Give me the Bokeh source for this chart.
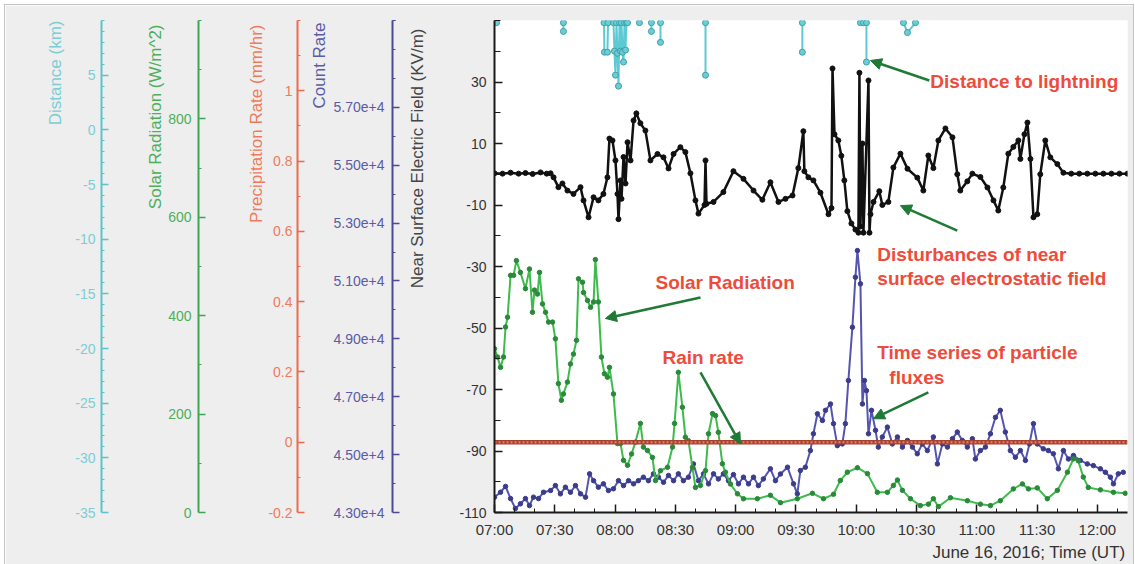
import pandas as pd
from bokeh.plotting import figure
from bokeh.models import (Range1d, LinearAxis, FixedTicker, DatetimeTickFormatter,
                          ColumnDataSource, Label, Arrow, NormalHead, Title)
from bokeh.embed import file_html
from bokeh.resources import INLINE

FONT = "Liberation Sans"

# ---------------------------------------------------------------------------
# Observations of 16 June 2016; times are minutes after 07:00 UT
# ---------------------------------------------------------------------------
field_min = [0, 4, 8, 12, 15.4, 19, 22.9, 26, 27.9, 29.4, 31.8, 33.8, 36.3, 39.3,
             42.8, 44.3, 46.8, 49.3, 51.7, 54.2, 56.2, 57.2, 58.7, 60.2, 61.2, 61.7,
             62.7, 63.2, 64.2, 65.2, 66.2, 67.7, 69.2, 70.6, 72.6, 75.1, 77.6, 81.1,
             84.1, 86.6, 89.1, 92.5, 95, 97.5, 100, 101.5, 104.5, 105, 105.5, 109,
             113.9, 118.9, 123.9, 128.9, 133.3, 137.3, 141.3, 144.8, 148.3, 151.2,
             153.7, 154.2, 156.2, 158.7, 162.2, 166.2, 167.7, 168.2, 169.2, 171.1,
             172.6, 174.1, 175.6, 177.6, 179.6, 181.1, 181.6, 182.1, 183.1, 183.6,
             186.1, 186.6, 187.1, 188.6, 191.5, 193, 196, 198.5, 202, 205.5, 210.4,
             213.4, 215.9, 218.4, 220.9, 224.4, 227.9, 230.3, 231.8, 235.3, 237.8,
             241.8, 245.3, 248.3, 250.7, 253.2, 255.7, 258.2, 260.7, 261.7, 263.7,
             265.2, 266.7, 268.2, 270.1, 271.6, 274.1, 276.6, 280.1, 283.1, 287,
             291, 295, 299, 303, 307, 311, 315]
field_kvm = [0.3, 0.2, 0.5, 0.2, 0.4, 0.1, 0.6, 0.2, 0.3, -1, -4.2, -3, -5.3, -6.4,
             -4.2, -8.5, -14, -7.5, -8.5, -6.4, -1, 11.6, 11, 4.5, -6.4, -14.6,
             -2, -8, 5.6, -3, 10.4, 4.5, 17.5, 19.8, 16.6, 14.2, 4.5, 6.6,
             5.5, 1.9, 6.6, 8.8, 7.2, 0.3, -8.5, -12.8, -10, 4.5, -9.6, -9,
             -5.8, 1, -1.5, -5.3, -8.3, -2.6, -9, -8, -6.9, 2,
             14, 1, -1, -2, -6, -13, -11, 34.4, 13, 11,
             6, -2, -12, -16, -18, -19, 33, -17, 10, -19,
             30.5, -19, -13, -9, -5.5, -10, -9, 2.2, 6.7, 1.8, -1.1,
             -5.3, 6.1, 2, 11, 14.9, 12, 0, -5.3, -2.3, 0.2,
             -0.9, -4.3, -8.5, -11.8, -4.3, 6.7, 8.9, 11, 5, 13,
             16.8, 5, -14, -13, 0, 11, 5.5, 3.3, 0.5, 0.2,
             0.2, 0.2, 0.2, 0.2, 0.2, 0.2, 0.2]

solar_min = [0, 1.5, 3, 4.5, 5.5, 6.5, 8, 9.5, 10.9, 12.9, 15.4, 17.4, 18.9, 19.9,
             21.4, 22.4, 23.9, 25.4, 26.9, 28.9, 30.3, 31.8, 33.3, 34.3, 36.3, 37.8,
             39.3, 40.8, 41.8, 43.8, 44.3, 46.3, 47.8, 49.3, 50.2, 51.7, 53.2, 54.7,
             56.2, 57.2, 59.2, 61.2, 62.7, 64.2, 66.2, 68.2, 70.1, 72.6, 74.1, 76.1,
             78.6, 80.1, 82.6, 86.1, 88.6, 89.6, 91.5, 93.5, 95, 96.5, 98.5, 100,
             102.5, 105, 106.5, 108.5, 110, 111.4, 113.4, 114.9, 117.4, 120.9, 123.9,
             130.8, 137.3, 142.3, 150.7, 158.2, 163.7, 168.7, 172.1, 175.6, 180.6,
             185.6, 190.5, 195.5, 198.5, 200.5, 203, 207, 211.9, 215.9, 218.4, 220.9,
             226.9, 235.3, 241.8, 246.8, 251.7, 258.2, 262.7, 265.7, 270.1, 275.1,
             280.1, 285.1, 288.1, 290.5, 293, 295.5, 301.5, 308, 313.9]
solar_wm2 = [333, 316, 295, 316, 377, 397, 482, 482, 512, 488, 455, 495, 407, 452,
             444, 488, 424, 407, 387, 387, 353, 262, 228, 241, 265, 302,
             322, 350, 475, 468, 447, 431, 417, 428, 514, 428, 316, 282,
             275, 295, 241, 140, 140, 106, 96, 119, 143, 181, 133, 126,
             112, 65, 85, 92, 133, 181, 285, 214, 153, 146, 92, 51,
             55, 85, 160, 201, 197, 163, 99, 82, 58, 38, 28,
             28, 35, 20, 28, 39, 28, 37, 65, 82, 91,
             79, 41, 41, 55, 66, 45, 28, 14, 17, 28, 12,
             30, 24, 17, 14, 24, 48, 58, 48, 50, 28,
             45, 82, 109, 105, 72, 51, 46, 41, 39]

count_min = [0, 3, 5.5, 8, 10.4, 12.9, 15.4, 17.4, 19.4, 21.9, 24.4, 27.9, 30.3,
             32.8, 35.3, 37.8, 40.3, 42.8, 45.3, 47.3, 49.3, 51.7, 54.2, 56.7, 59.2,
             61.7, 64.2, 66.7, 69.2, 71.6, 74.1, 76.6, 79.1, 81.6, 84.1, 86.6, 89.1,
             91.5, 94, 96.5, 99, 101.5, 104, 106.5, 109, 111.4, 113.9, 116.4, 118.9,
             121.4, 123.9, 126.4, 128.9, 131.3, 133.8, 137.3, 139.8, 142.3, 145.8,
             148.8, 150.7, 152.2, 154.7, 157.2, 158.7, 160.7, 163.2, 164.7, 167.2,
             168.7, 170.6, 173.1, 174.6, 176.1, 178.1, 179.6, 180.6, 182.1, 183.1,
             184.1, 185.1, 186.1, 187.6, 189.6, 191, 193, 195.5, 198, 200.5, 203,
             205.5, 208, 210.4, 212.9, 215.4, 218.4, 220.4, 222.9, 225.4, 227.9,
             230.3, 232.8, 235.3, 237.8, 239.3, 241.8, 244.3, 246.8, 249.3, 251.7,
             254.2, 256.7, 259.2, 261.7, 264.2, 266.2, 268.2, 270.1, 273.1, 275.6,
             278.1, 280.6, 283.1, 285.6, 288.1, 291.5, 295, 298, 301.5, 304, 306.5,
             308, 310.4, 312.9]
count_rate = [43530, 43700, 43900, 43480, 43140, 43300, 43480, 43240, 43530, 43480,
              43700, 43760, 43930, 43645, 43875, 43700, 43930, 43645, 43530, 44335,
              44100, 43875, 43990, 43760, 43820, 44100, 43930, 44100, 43990, 44100,
              44220, 44100, 44335, 44220, 44045, 44280, 44100, 44335, 44100, 44220,
              44680, 44100, 44335, 43990, 44335, 44160, 44335, 44100, 44310, 43990,
              44220, 43990, 44220, 43930, 44160, 44510, 44100, 44330, 44565, 43990,
              43645, 44450, 44565, 45140, 45720, 46410, 46180, 46530, 46750, 46070,
              45310, 45370, 46070, 47560, 49400, 51130, 52050, 50900, 46750, 47560,
              47210, 45720, 46530, 45840, 45260, 45610, 45950, 45370, 45610, 45260,
              45490, 45260, 45030, 45370, 45140, 45610, 44680, 45370, 45260, 45550,
              45780, 45490, 45260, 45550, 44850, 45140, 45260, 45720, 46290, 46530,
              45780, 45140, 44910, 45140, 44800, 45370, 46070, 45370, 45200, 45140,
              45030, 44510, 45140, 44850, 44970, 44800, 44680, 44620, 44510, 44390,
              44220, 43990, 44335, 44390]

rain_min = [0, 315]
rain_mmhr = [0.0, 0.0]

# lightning detections: each group is one burst of consecutive reports
strike_min = [
    [1.0],
    [34.3, 34.3],
    [54.5, 54.7, 56.2, 56.5],
    [59.2, 59.7, 60.2, 60.7, 61.2, 61.7, 62.2, 62.7, 63.2, 63.7, 64.2, 64.7, 65.2, 65.7, 66.2],
    [72.1],
    [78.1, 78.1],
    [82.6, 82.6],
    [105.0, 105.0],
    [153.2, 153.2],
    [182.1, 183.6, 185.1, 185.1],
    [203.5, 205.5, 209.5],
]
strike_km = [
    [9.8],
    [9.8, 9.0],
    [9.8, 7.1, 7.1, 9.8],
    [9.8, 7.2, 5.0, 9.8, 7.0, 4.0, 9.8, 7.2, 9.8, 7.1, 6.2, 9.8, 7.3, 9.8, 9.8],
    [9.8],
    [9.8, 9.0],
    [9.8, 8.0],
    [9.8, 5.0],
    [9.8, 7.1],
    [9.8, 9.8, 9.8, 6.2],
    [9.8, 8.9, 9.8],
]

time_tick_labels = ["07:00", "07:30", "08:00", "08:30", "09:00", "09:30",
                    "10:00", "10:30", "11:00", "11:30", "12:00"]

DAY = "2016-06-16"
T0 = pd.Timestamp(f"{DAY} 07:00")


def ms(minutes):
    """minutes after 07:00 -> epoch milliseconds for the datetime axis"""
    return (T0 + pd.Timedelta(minutes=minutes)).value / 1e6


def ms_list(values):
    return [ms(v) for v in values]


# ---------------------------------------------------------------------------
# Figure
# ---------------------------------------------------------------------------
p = figure(width=1128, height=559, x_axis_type="datetime",
           x_range=Range1d(ms(0), ms(315)), y_range=Range1d(-110, 50),
           output_backend="svg", toolbar_location=None,
           min_border_left=489, min_border_right=6, min_border_top=15,
           min_border_bottom=52,
           background_fill_color="white", border_fill_color="#eeeeee",
           outline_line_color=None)
p.margin = (5, 0, 0, 5)
p.styles = {"outline": "1px solid #c4c4c4"}
p.xgrid.visible = False
p.ygrid.visible = False

p.extra_y_ranges = {
    "dist": Range1d(-35, 10),
    "solar": Range1d(0, 1000),
    "precip": Range1d(-0.2, 1.2),
    "count": Range1d(43000, 60000),
}


def style_axis(ax, line_color, label_color, label_standoff, major_in=7, minor_in=3):
    ax.axis_line_color = line_color
    ax.axis_line_width = 2
    ax.major_tick_line_color = line_color
    ax.major_tick_line_width = 1.5
    ax.minor_tick_line_color = line_color
    ax.minor_tick_line_width = 1
    ax.major_tick_in = major_in
    ax.major_tick_out = 0
    ax.minor_tick_in = minor_in
    ax.minor_tick_out = 0
    ax.major_label_text_color = label_color
    ax.major_label_text_font = FONT
    ax.major_label_text_font_size = "14px"
    ax.major_label_standoff = label_standoff


def axis_title(text, color, standoff, offset):
    """vertical title hung from the top end of its axis"""
    return Title(text=text, align="right", offset=offset, standoff=standoff,
                 text_font=FONT, text_font_size="17px", text_font_style="normal",
                 text_color=color)


def spacer(gap):
    """blank axis that only reserves room between two stacked axes"""
    return LinearAxis(ticker=FixedTicker(ticks=[]), axis_line_color=None,
                      major_tick_line_color=None, minor_tick_line_color=None,
                      major_tick_in=0, major_tick_out=0, minor_tick_in=0,
                      minor_tick_out=0, major_label_standoff=0,
                      axis_label=" ", axis_label_standoff=gap,
                      axis_label_text_font_size="1px",
                      axis_label_text_color="#eeeeee")


def plain_labels(values):
    return {v: str(v) for v in values}


# electric field axis (the plot's own y axis)
field_ticks = [-110, -90, -70, -50, -30, -10, 10, 30]
ey = p.yaxis[0]
ey.ticker = FixedTicker(ticks=field_ticks,
                        minor_ticks=[-100, -80, -60, -40, -20, 0, 20, 40, 50])
ey.major_label_overrides = plain_labels(field_ticks)
style_axis(ey, "#1a1a1a", "#333333", 8, major_in=8, minor_in=6)

count_ticks = list(range(43000, 58000, 2000))
count_ax = LinearAxis(y_range_name="count",
                      ticker=FixedTicker(ticks=count_ticks,
                                         minor_ticks=list(range(44000, 61000, 2000))
                                         + [59000, 60000]))
count_ax.major_label_overrides = {v: f"{v / 1e4:.2f}e+4" for v in count_ticks}
style_axis(count_ax, "#4a4a96", "#5b5ba6", 8)

precip_ax = LinearAxis(y_range_name="precip",
                       ticker=FixedTicker(ticks=[-0.2, 0, 0.2, 0.4, 0.6, 0.8, 1.0],
                                          minor_ticks=[-0.1, 0.1, 0.3, 0.5, 0.7, 0.9,
                                                       1.1, 1.2]))
precip_ax.major_label_overrides = {-0.2: "-0.2", 0: "0", 0.2: "0.2", 0.4: "0.4",
                                   0.6: "0.6", 0.8: "0.8", 1.0: "1"}
style_axis(precip_ax, "#ee6a4c", "#f07a5c", 5)

solar_ax = LinearAxis(y_range_name="solar",
                      ticker=FixedTicker(ticks=[0, 200, 400, 600, 800],
                                         minor_ticks=[100, 300, 500, 700, 900, 1000]))
style_axis(solar_ax, "#3fa552", "#4caf5c", 7)

dist_ticks = list(range(-35, 10, 5))
dist_ax = LinearAxis(y_range_name="dist",
                     ticker=FixedTicker(ticks=dist_ticks,
                                        minor_ticks=[v for v in range(-35, 11)
                                                     if v % 5 != 0] + [10]))
dist_ax.major_label_overrides = plain_labels(dist_ticks)
style_axis(dist_ax, "#5cc3cb", "#7ccdd4", 6)

# stacked from the plot outwards: axis, its title, then a gap
p.add_layout(spacer(12), "left")
p.add_layout(axis_title("Near Surface Electric Field (KV/m)", "#444444", 27, 8), "left")
p.add_layout(count_ax, "left")
p.add_layout(axis_title("Count Rate", "#5b5ba6", 4, 2), "left")
p.add_layout(spacer(4), "left")
p.add_layout(precip_ax, "left")
p.add_layout(axis_title("Precipitation Rate (mm/hr)", "#f07a5c", 0, 4), "left")
p.add_layout(spacer(42), "left")
p.add_layout(solar_ax, "left")
p.add_layout(axis_title("Solar Radiation (W/m^2)", "#4caf5c", 2, 4), "left")
p.add_layout(spacer(37), "left")
p.add_layout(dist_ax, "left")
p.add_layout(axis_title("Distance (km)", "#7ccdd4", 15, 0), "left")

# time axis
xa = p.xaxis[0]
major_x = [ms((pd.Timestamp(f"{DAY} {s}") - T0).total_seconds() / 60) for s in time_tick_labels]
minor_x = [ms(m) for m in range(0, 316, 10) if m % 30 != 0]
xa.ticker = FixedTicker(ticks=major_x, minor_ticks=minor_x)
xa.formatter = DatetimeTickFormatter(minutes="%H:%M", hourmin="%H:%M", hours="%H:%M")
xa.axis_line_color = "#1a1a1a"
xa.axis_line_width = 2
xa.major_tick_line_color = "#1a1a1a"
xa.major_tick_line_width = 1.5
xa.minor_tick_line_color = "#1a1a1a"
xa.major_tick_in = 8
xa.major_tick_out = 0
xa.minor_tick_in = 4
xa.minor_tick_out = 0
xa.major_label_text_font = FONT
xa.major_label_text_font_size = "15px"
xa.major_label_text_color = "#333333"
xa.major_label_standoff = 8

p.add_layout(Title(text="June 16, 2016; Time (UT)", align="right", offset=2, standoff=0,
                   text_font=FONT, text_font_size="17px", text_font_style="normal",
                   text_color="#333333"), "below")

# ---------------------------------------------------------------------------
# Series
# ---------------------------------------------------------------------------
field_src = ColumnDataSource(dict(t=ms_list(field_min), v=field_kvm))
p.line("t", "v", source=field_src, line_color="#111111", line_width=2.5)
p.scatter("t", "v", source=field_src, size=5, color="#111111")

count_src = ColumnDataSource(dict(t=ms_list(count_min), v=count_rate))
p.line("t", "v", source=count_src, y_range_name="count", line_color="#5555b0", line_width=2)
p.scatter("t", "v", source=count_src, y_range_name="count", size=4.5, color="#3c3c8c")

solar_src = ColumnDataSource(dict(t=ms_list(solar_min), v=solar_wm2))
p.line("t", "v", source=solar_src, y_range_name="solar", line_color="#3dbb4c", line_width=2)
p.scatter("t", "v", source=solar_src, y_range_name="solar", size=4.5, color="#2a8a3a")

rain_src = ColumnDataSource(dict(t=ms_list(rain_min), v=rain_mmhr))
p.line("t", "v", source=rain_src, y_range_name="precip", line_color="#a8402e", line_width=4.5)
p.line("t", "v", source=rain_src, y_range_name="precip", line_color="#e58068",
       line_width=2, line_dash="2 2")

strike_src = ColumnDataSource(dict(xs=[ms_list(g) for g in strike_min], ys=strike_km))
p.multi_line("xs", "ys", source=strike_src, y_range_name="dist",
             line_color="#5ccad2", line_width=2)
flat_t = [ms(m) for g in strike_min for m in g]
flat_d = [d for g in strike_km for d in g]
p.scatter(flat_t, flat_d, y_range_name="dist", size=6, fill_color="#6ccdd4",
          line_color="#3e9fa8")

# ---------------------------------------------------------------------------
# Annotations
# ---------------------------------------------------------------------------
TEXT_RED = "#ef4b3a"
ARROW_GREEN = "#1f7a35"

notes = [
    ("Distance to lightning", 216.9, 30.2),
    ("Disturbances of near", 190.5, -26.0),
    ("surface electrostatic field", 190.5, -33.8),
    ("Solar Radiation", 80.1, -35.2),
    ("Rain rate", 83.6, -59.6),
    ("Time series of particle", 190.5, -58.0),
    ("fluxes", 196.5, -66.1),
]
for text, m, yv in notes:
    p.add_layout(Label(x=ms(m), y=yv, text=text, text_font=FONT, text_font_size="19px",
                       text_font_style="bold", text_color=TEXT_RED,
                       text_baseline="middle", text_align="left"))

arrows = [
    (216.4, 30.5, 187.1, 37.0),
    (230.3, -18.3, 202.0, -10.2),
    (102.5, -40.1, 55.2, -46.9),
    (102.5, -64.4, 122.4, -87.7),
    (215.9, -70.9, 188.6, -79.5),
]
for m0, y0, m1, y1 in arrows:
    p.add_layout(Arrow(x_start=ms(m0), y_start=y0, x_end=ms(m1), y_end=y1,
                       line_color=ARROW_GREEN, line_width=2.5,
                       end=NormalHead(size=11, fill_color=ARROW_GREEN,
                                      line_color=ARROW_GREEN)))

open("out.html", "w").write(file_html(p, INLINE))
